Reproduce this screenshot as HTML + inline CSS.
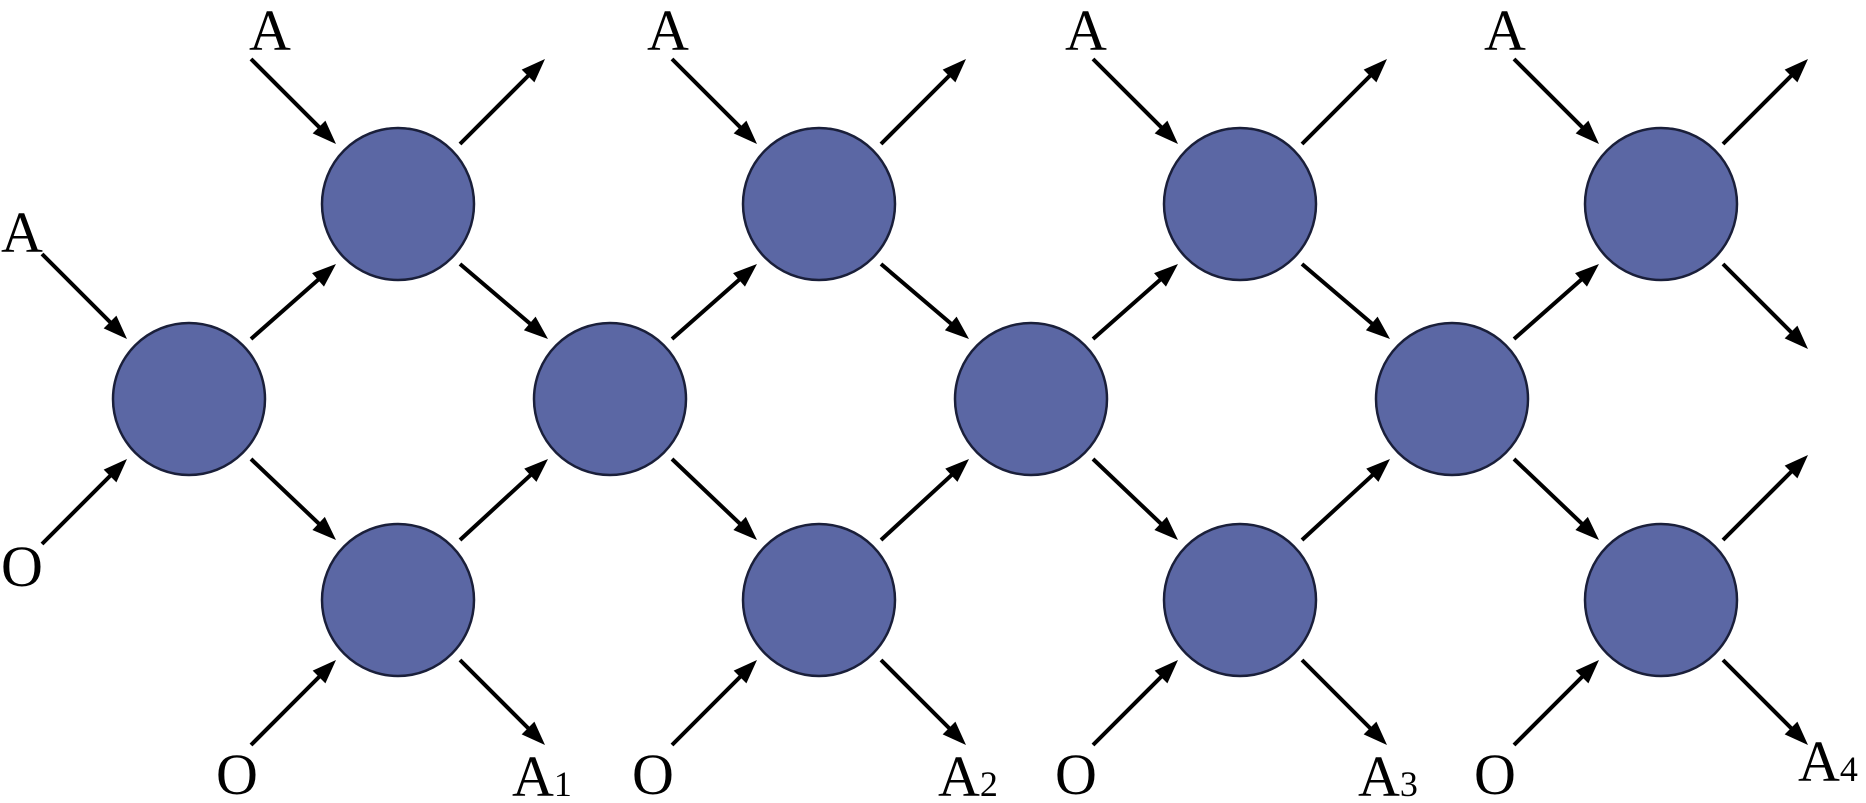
<!DOCTYPE html>
<html><head><meta charset="utf-8"><style>
html,body{margin:0;padding:0;background:#fff;width:1866px;height:803px;overflow:hidden}
svg text{font-family:"Liberation Serif",serif;fill:#000}
</style></head><body>
<svg id="s" width="1866" height="803" viewBox="0 0 1866 803" xmlns="http://www.w3.org/2000/svg">
<g id="e" stroke="#000" stroke-width="4" fill="none"></g>
<g id="h" fill="#000"></g>
<g id="n"></g>
<g font-size="58">
<text x="270" y="50" text-anchor="middle">A</text>
<text x="668" y="50" text-anchor="middle">A</text>
<text x="1086" y="50" text-anchor="middle">A</text>
<text x="1505" y="50" text-anchor="middle">A</text>
<text x="22" y="252" text-anchor="middle">A</text>
<text x="22" y="586" text-anchor="middle">O</text>
<text x="237" y="794" text-anchor="middle">O</text>
<text x="653" y="794" text-anchor="middle">O</text>
<text x="1076" y="794" text-anchor="middle">O</text>
<text x="1495" y="794" text-anchor="middle">O</text>
<text x="512" y="796">A<tspan font-size="36">1</tspan></text>
<text x="938" y="796">A<tspan font-size="36">2</tspan></text>
<text x="1358" y="796">A<tspan font-size="36">3</tspan></text>
<text x="1798" y="781">A<tspan font-size="36">4</tspan></text>
</g>
</svg>
<script>
var ns="http://www.w3.org/2000/svg",E=document.getElementById('e'),H=document.getElementById('h'),N=document.getElementById('n');
function ln(x1,y1,x2,y2){var dx=x2-x1,dy=y2-y1,L=Math.hypot(dx,dy),ux=dx/L,uy=dy/L,hl=24,hw=9;
var l=document.createElementNS(ns,'line');l.setAttribute('x1',x1);l.setAttribute('y1',y1);l.setAttribute('x2',x2-ux*(hl-4));l.setAttribute('y2',y2-uy*(hl-4));E.appendChild(l);
var bx=x2-ux*hl,by=y2-uy*hl,p=document.createElementNS(ns,'polygon');
p.setAttribute('points',x2+','+y2+' '+(bx-uy*hw)+','+(by+ux*hw)+' '+(bx+uy*hw)+','+(by-ux*hw));H.appendChild(p);}
function nd(x,y){var c=document.createElementNS(ns,'circle');c.setAttribute('cx',x);c.setAttribute('cy',y);c.setAttribute('r',76);c.setAttribute('fill','#5b67a4');c.setAttribute('stroke','#1a1f3a');c.setAttribute('stroke-width','2.5');N.appendChild(c);}
function inc(c,sx,sy){ln(c[0]+sx*147,c[1]+sy*145,c[0]+sx*62,c[1]+sy*60);}
function out(c,sx,sy){ln(c[0]+sx*62,c[1]+sy*60,c[0]+sx*147,c[1]+sy*145);}
function edge(a,b){var sy=b[1]>a[1]?1:-1;ln(a[0]+62,a[1]+sy*60,b[0]-62,b[1]-sy*60);}
var M=[],T=[],B=[];
for(var i=0;i<4;i++){M.push([189+421*i,399]);T.push([398+421*i,204]);B.push([398+421*i,600]);}
inc(M[0],-1,-1);inc(M[0],-1,1);
for(i=0;i<4;i++){
 edge(M[i],T[i]);edge(M[i],B[i]);
 inc(T[i],-1,-1);inc(B[i],-1,1);
 out(T[i],1,-1);out(B[i],1,1);
 if(i<3){edge(T[i],M[i+1]);edge(B[i],M[i+1]);}
}
out(T[3],1,1);out(B[3],1,-1);
for(i=0;i<4;i++){nd(M[i][0],M[i][1]);nd(T[i][0],T[i][1]);nd(B[i][0],B[i][1]);}
</script>
</body></html>
